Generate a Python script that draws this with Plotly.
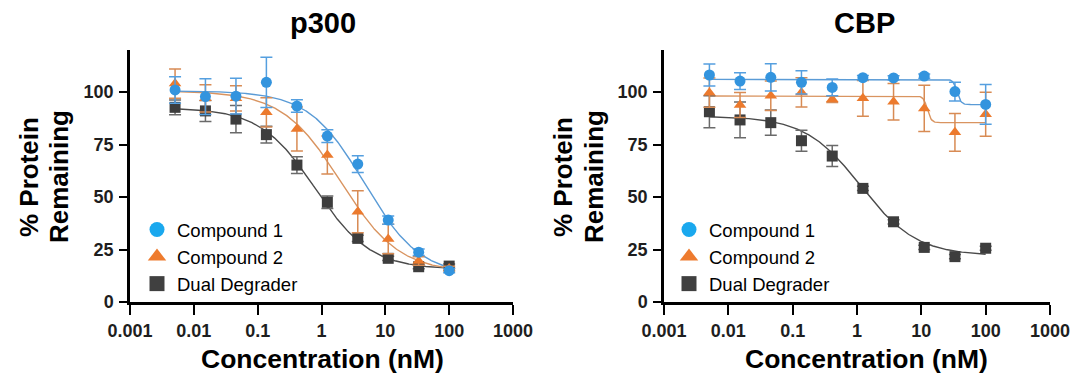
import numpy as np
import plotly.graph_objects as go

W, H = 1072, 377

# ---------------- data ----------------
conc = [0.00508, 0.0152, 0.0457, 0.137, 0.412, 1.235, 3.70, 11.1, 33.3, 100]
series_names = ["Compound 1", "Compound 2", "Dual Degrader"]

# p300
p300_c1 = [101, 97.8, 98, 104.6, 93.3, 79, 65.7, 39, 23.7, 14.9]
p300_c1_err = [6.3, 8.5, 8.5, 12, 3, 3, 4, 2, 1.5, 1]
p300_c2 = [104, 97, 97, 90.3, 82.4, 70, 43, 30, 19.5, 16]
p300_c2_err = [7, 6.5, 6, 7, 10.5, 9, 10, 7, 2, 1]
p300_dd = [92.7, 91, 87.1, 79.7, 65.2, 47.5, 30.3, 20.8, 16.8, 17.1]
p300_dd_err = [3.5, 5, 6.5, 4, 4, 3, 1.5, 1, 1, 1]

# CBP
cbp_c1 = [108.1, 105.2, 107, 104.6, 102.2, 106.8, 106.7, 107.6, 100.2, 94.1]
cbp_c1_err = [5.2, 4, 6.5, 5.5, 4, 1, 1, 1, 4.5, 9.5]
cbp_c2 = [99.7, 93.8, 98.2, 99.8, 96.5, 97, 95.4, 92.2, 80.8, 89.4]
cbp_c2_err = [7, 6, 7, 7, 1.5, 8.5, 8.7, 11, 9, 10.5]
cbp_dd = [90.6, 86.7, 85.4, 76.8, 69.5, 54.1, 38.2, 26, 21.6, 25.6]
cbp_dd_err = [7.6, 8.5, 6, 5, 5, 1, 1, 1, 1, 1]

# four-parameter logistic fit parameters: [top, bottom, IC50 (nM), hill]
p300_fit_c1 = [100.5, 12.5, 4.7, 1.0]
p300_fit_c2 = [100.5, 14, 2.0, 0.95]
p300_fit_dd = [92.5, 15.5, 0.8, 1.0]
cbp_fit_c1 = [106, 94, 36, 14]
cbp_fit_c2 = [98.1, 85.4, 12.4, 14]
cbp_fit_dd = [88.5, 22, 1.15, 1.0]

x_tick_vals = [0.001, 0.01, 0.1, 1, 10, 100, 1000]
x_tick_text = ["0.001", "0.01", "0.1", "1", "10", "100", "1000"]
y_tick_vals = [0, 25, 50, 75, 100]
y_tick_text = ["0", "25", "50", "75", "100"]

panel_titles = ["p300", "CBP"]
x_title = "Concentration (nM)"
y_title_lines = ["% Protein", "Remaining"]

# ---------------- styles ----------------
FONT = "Arial, 'Liberation Sans', Helvetica, sans-serif"
marker_colors = ["#3394de", "#ec7a2d", "#3d3d3d"]
legend_colors = ["#1aa8ee", "#ee7b2e", "#404040"]
line_colors = ["#5a9bd6", "#d99460", "#4a4a4a"]
err_colors = ["#559fdf", "#d88b54", "#6a6a6a"]
symbols = ["circle", "triangle-up", "square"]
msize = [11, 11, 11]


def px_x(p):
    return p / W


def px_y(p):
    return 1 - p / H


def four_pl(x, params):
    top, bottom, ic50, hill = params
    x = np.asarray(x, dtype=float)
    return bottom + (top - bottom) / (1 + (x / ic50) ** hill)


fig = go.Figure()

panels = [
    ("x", "y", "legend", [p300_c1, p300_c2, p300_dd], [p300_c1_err, p300_c2_err, p300_dd_err],
     [p300_fit_c1, p300_fit_c2, p300_fit_dd]),
    ("x2", "y2", "legend2", [cbp_c1, cbp_c2, cbp_dd], [cbp_c1_err, cbp_c2_err, cbp_dd_err],
     [cbp_fit_c1, cbp_fit_c2, cbp_fit_dd]),
]

xfit = np.logspace(np.log10(conc[0]), np.log10(conc[-1]), 400)

for xa, ya, lg, vals, errs, fits in panels:
    # fitted curves
    for i in [2, 1, 0]:
        fig.add_trace(go.Scatter(
            x=xfit, y=four_pl(xfit, fits[i]), mode="lines",
            line=dict(color=line_colors[i], width=1.4),
            xaxis=xa, yaxis=ya, showlegend=False, hoverinfo="skip"))
    # data points with error bars
    for i in [2, 1, 0]:
        fig.add_trace(go.Scatter(
            x=conc, y=vals[i], mode="markers",
            marker=dict(symbol=symbols[i], size=msize[i], color=marker_colors[i], line=dict(width=0)),
            error_y=dict(type="data", array=errs[i], visible=True, color=err_colors[i],
                         thickness=1.5, width=6),
            xaxis=xa, yaxis=ya, showlegend=False, name=series_names[i]))
    # legend entries
    for i in range(3):
        fig.add_trace(go.Scatter(
            x=[None], y=[None], mode="markers", name=series_names[i],
            marker=dict(symbol=symbols[i], size=15 if i != 1 else 16, color=legend_colors[i], line=dict(width=0)),
            xaxis=xa, yaxis=ya, legend=lg, showlegend=True))

axis_common = dict(
    showline=True, linecolor="black", linewidth=2.5, showgrid=False, zeroline=False,
    ticks="outside", tickcolor="black", tickwidth=2, automargin=False,
    tickfont=dict(family=FONT, size=18, color="#1e1e1e", weight="bold"),
)

xdoms = [[px_x(130), px_x(513)], [px_x(664), px_x(1050)]]
ydom = [px_y(302), px_y(50)]

layout = dict(
    width=W, height=H, margin=dict(l=0, r=0, t=0, b=0, autoexpand=False),
    paper_bgcolor="white", plot_bgcolor="white",
    font=dict(family=FONT, color="black"),
    showlegend=True,
)
for k, suf in enumerate(["", "2"]):
    layout["xaxis" + suf] = dict(
        axis_common, type="log", range=[-3, 3], domain=xdoms[k],
        tickvals=x_tick_vals, ticktext=x_tick_text, ticklen=10, ticklabelstandoff=1,
        anchor="y" + suf)
    layout["yaxis" + suf] = dict(
        axis_common, range=[0, 120], domain=ydom,
        tickvals=y_tick_vals, ticktext=y_tick_text, ticklen=8, ticklabelstandoff=2,
        anchor="x" + suf)

legend_style = dict(
    font=dict(family=FONT, size=18.5, color="black"), bgcolor="rgba(0,0,0,0)",
    borderwidth=0, itemsizing="trace", tracegroupgap=0,
    xanchor="left", yanchor="top", itemclick=False,
)
layout["legend"] = dict(legend_style, x=px_x(137), y=px_y(211))
layout["legend2"] = dict(legend_style, x=px_x(669), y=px_y(211))
fig.update_layout(**layout)

annotations = []
title_x = [323, 864]
xtitle_x = [322, 866]
ytitle_x = [(29, 59), (563, 594)]
for k in range(2):
    annotations.append(dict(
        text="<b>" + panel_titles[k] + "</b>", x=px_x(title_x[k]), y=px_y(23),
        xref="paper", yref="paper", showarrow=False, xanchor="center", yanchor="middle",
        font=dict(family=FONT, size=29, color="black")))
    annotations.append(dict(
        text="<b>" + x_title + "</b>", x=px_x(xtitle_x[k]), y=px_y(359),
        xref="paper", yref="paper", showarrow=False, xanchor="center", yanchor="middle",
        font=dict(family=FONT, size=26.5, color="black")))
    for j in range(2):
        annotations.append(dict(
            text="<b>" + y_title_lines[j] + "</b>", x=px_x(ytitle_x[k][j]), y=px_y(177),
            textangle=-90, xref="paper", yref="paper", showarrow=False,
            xanchor="center", yanchor="middle",
            font=dict(family=FONT, size=26, color="black")))
fig.update_layout(annotations=annotations)

fig.write_html("out.html")
